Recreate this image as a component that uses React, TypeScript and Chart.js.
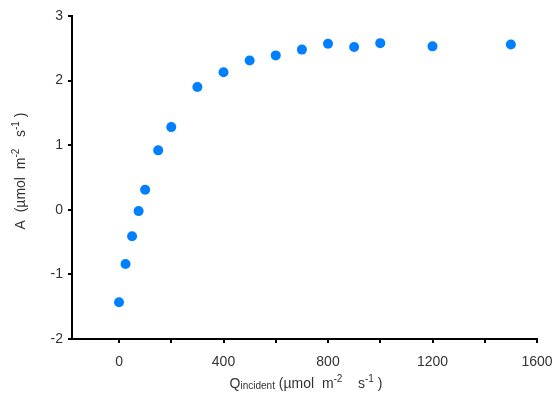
import React, { useEffect, useRef } from 'react';
import { Chart, registerables } from 'chart.js';

Chart.register(...registerables);

// Incident light (µmol m-2 s-1)
const lightLevels = [0, 25, 50, 75, 100, 150, 200, 300, 400, 500, 600, 700, 800, 900, 1000, 1200, 1500];
// Net assimilation A (µmol m-2 s-1)
const assimilation = [-1.43, -0.84, -0.41, -0.02, 0.31, 0.92, 1.28, 1.90, 2.13, 2.31, 2.39, 2.48, 2.57, 2.52, 2.58, 2.53, 2.56];
// x-axis tick marks and the ones that carry labels
const xTickValues = [0, 200, 400, 600, 800, 1000, 1200, 1400, 1600];
const xTickLabels = [0, 400, 800, 1200, 1600];
const yTickLabels = [-2, -1, 0, 1, 2, 3];

const FONT = '"Liberation Sans", Arial, sans-serif';
const TEXT = '#333';

type Seg = { t: string; size: number; dy: number };

function drawSegs(ctx: CanvasRenderingContext2D, segs: Seg[], cx: number, baseY: number) {
  let total = 0;
  const widths = segs.map((s) => {
    ctx.font = `${s.size}px ${FONT}`;
    const w = ctx.measureText(s.t).width;
    total += w;
    return w;
  });
  let x = cx - total / 2;
  ctx.textBaseline = 'alphabetic';
  ctx.textAlign = 'left';
  segs.forEach((s, i) => {
    ctx.font = `${s.size}px ${FONT}`;
    ctx.fillText(s.t, x, baseY + s.dy);
    x += widths[i];
  });
}

const titlePlugin = {
  id: 'richTitles',
  afterDraw(chart: any) {
    const ctx = chart.ctx as CanvasRenderingContext2D;
    ctx.save();
    ctx.fillStyle = TEXT;
    // x title
    const xSegs: Seg[] = [
      { t: 'Q', size: 14, dy: 0 },
      { t: 'incident', size: 10, dy: 1 },
      { t: ' (µmol  m', size: 14, dy: 0 },
      { t: '-2', size: 10, dy: -6 },
      { t: '    s', size: 14, dy: 0 },
      { t: '-1', size: 10, dy: -6 },
      { t: ' )', size: 14, dy: 0 },
    ];
    drawSegs(ctx, xSegs, 306, 388);
    // y title (rotated)
    ctx.translate(25, 171);
    ctx.rotate(-Math.PI / 2);
    const ySegs: Seg[] = [
      { t: 'A  (µmol  m', size: 14, dy: 0 },
      { t: '-2', size: 10, dy: -6 },
      { t: '   s', size: 14, dy: 0 },
      { t: '-1', size: 10, dy: -6 },
      { t: ' )', size: 14, dy: 0 },
    ];
    drawSegs(ctx, ySegs, 0, 0);
    ctx.restore();
  },
};

export default function App() {
  const ref = useRef<HTMLCanvasElement | null>(null);

  useEffect(() => {
    if (!ref.current) return;
    const chart = new Chart(ref.current, {
      type: 'scatter',
      data: {
        datasets: [
          {
            data: lightLevels.map((x, i) => ({ x, y: assimilation[i] })),
            backgroundColor: '#0080FF',
            borderColor: '#0080FF',
            pointRadius: 5,
            pointHoverRadius: 5,
            borderWidth: 0,
          },
        ],
      },
      plugins: [titlePlugin],
      options: {
        animation: false,
        responsive: false,
        devicePixelRatio: 1,
        layout: { padding: { top: 16, right: 23, left: 0, bottom: 0 } },
        plugins: { legend: { display: false }, tooltip: { enabled: false } },
        scales: {
          x: {
            type: 'linear',
            min: -180,
            max: 1600,
            afterBuildTicks: (axis: any) => {
              axis.ticks = xTickValues.map((v) => ({ value: v }));
            },
            afterFit: (scale: any) => {
              scale.height = 57;
              scale.paddingLeft = 0;
              scale.paddingRight = 0;
            },
            ticks: {
              autoSkip: false,
              maxRotation: 0,
              padding: 11,
              color: TEXT,
              font: { family: FONT, size: 14 },
              callback: (v: any) => (xTickLabels.includes(Number(v)) ? String(v) : ''),
            },
            grid: { display: true, drawOnChartArea: false, color: '#000', lineWidth: 2, tickLength: 4 },
            border: { display: true, color: '#000', width: 2 },
          },
          y: {
            type: 'linear',
            min: yTickLabels[0],
            max: yTickLabels[yTickLabels.length - 1],
            afterBuildTicks: (axis: any) => {
              axis.ticks = yTickLabels.map((v) => ({ value: v }));
            },
            afterFit: (scale: any) => {
              scale.width = 72;
              scale.paddingTop = 0;
              scale.paddingBottom = 0;
            },
            ticks: {
              padding: 5,
              color: TEXT,
              font: { family: FONT, size: 14 },
              callback: (v: any) => String(v),
            },
            grid: { display: true, drawOnChartArea: false, color: '#000', lineWidth: 2, tickLength: 4 },
            border: { display: true, color: '#000', width: 2 },
          },
        },
      },
    } as any);
    return () => chart.destroy();
  }, []);

  return (
    <div style={{ position: 'fixed', left: 0, top: 0, width: 560, height: 396, background: '#fff' }}>
      <canvas ref={ref} width={560} height={396} />
    </div>
  );
}
